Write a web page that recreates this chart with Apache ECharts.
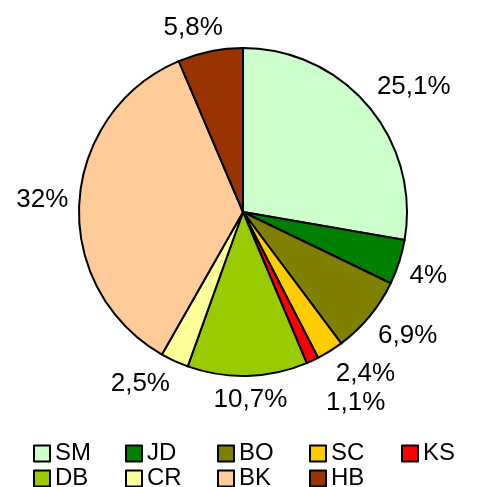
<!DOCTYPE html>
<html>
<head>
<meta charset="utf-8">
<script src="https://cdn.jsdelivr.net/npm/echarts@6/dist/echarts.min.js"></script>
<style>
  html, body { margin: 0; padding: 0; background: #fff; }
  #grafico { width: 490px; height: 487px; }
</style>
</head>
<body>
<div id="grafico"></div>
<script>
const categorias = ['SM', 'JD', 'BO', 'SC', 'KS', 'DB', 'CR', 'BK', 'HB'];
const valores = [25.1, 4, 6.9, 2.4, 1.1, 10.7, 2.5, 32, 5.8];
const colores = ['#CCFFCC', '#008000', '#808000', '#FFCC00', '#FF0000', '#99CC00', '#FFFF99', '#FFCC99', '#993300'];

const fuente = '"Liberation Sans", Arial, sans-serif';
const centro = [243, 212];
const radio = 164;

// angulo medio de cada sector (desde arriba, sentido horario)
const total = valores.reduce((a, b) => a + b, 0);
const angulos = [];
let acum = 0;
valores.forEach(v => {
    angulos.push((acum + v / 2) / total * 2 * Math.PI);
    acum += v;
});

// etiquetas estilo Excel: la esquina mas cercana de la caja apunta al centro
let cajas = [];
const ubicarEtiqueta = (params) => {
    const i = params.dataIndex;
    if (i === 0) cajas = [];
    const w = params.labelRect.width;
    const h = params.labelRect.height;
    const ux = Math.sin(angulos[i]);
    const uy = -Math.cos(angulos[i]);
    const clamp = v => Math.max(-1, Math.min(1, v));
    let d = radio + 11;
    let x, y;
    const calc = () => {
        x = centro[0] + ux * d + clamp(ux * 2.5) * w / 2;
        y = centro[1] + uy * d + clamp(uy * 2.5) * h / 2;
    };
    calc();
    const choca = () => cajas.some(c =>
        Math.abs(c.x - x) < (c.w + w) / 2 && Math.abs(c.y - y) < (c.h + h) / 2 + 3);
    let n = 0;
    while (choca() && n < 60) { d += 1; calc(); n++; }
    cajas.push({ x, y, w, h });
    return { x, y, align: 'center', verticalAlign: 'middle' };
};

const initGrafico = () => {
    const myChart = echarts.init(document.getElementById('grafico'));
    myChart.setOption({
        animation: false,
        color: colores,
        legend: {
            data: categorias,
            left: 28,
            top: 436,
            width: 470,
            itemGap: 0,
            itemWidth: 16,
            itemHeight: 16,
            icon: 'rect',
            itemStyle: { borderColor: '#000', borderWidth: 2 },
            textStyle: {
                fontFamily: fuente,
                fontSize: 24,
                color: '#000',
                width: 70,
                lineHeight: 25
            }
        },
        series: [{
            type: 'pie',
            center: centro,
            radius: radio,
            startAngle: 90,
            clockwise: true,
            avoidLabelOverlap: false,
            itemStyle: { borderColor: '#000', borderWidth: 2 },
            label: {
                show: true,
                position: 'outside',
                fontFamily: fuente,
                fontSize: 26,
                color: '#000',
                formatter: p => String(p.value).replace('.', ',') + '%'
            },
            labelLine: { show: false },
            labelLayout: ubicarEtiqueta,
            emphasis: { disabled: true },
            data: categorias.map((c, i) => ({ name: c, value: valores[i] }))
        }]
    });
};

window.addEventListener('load', initGrafico);
</script>
</body>
</html>
